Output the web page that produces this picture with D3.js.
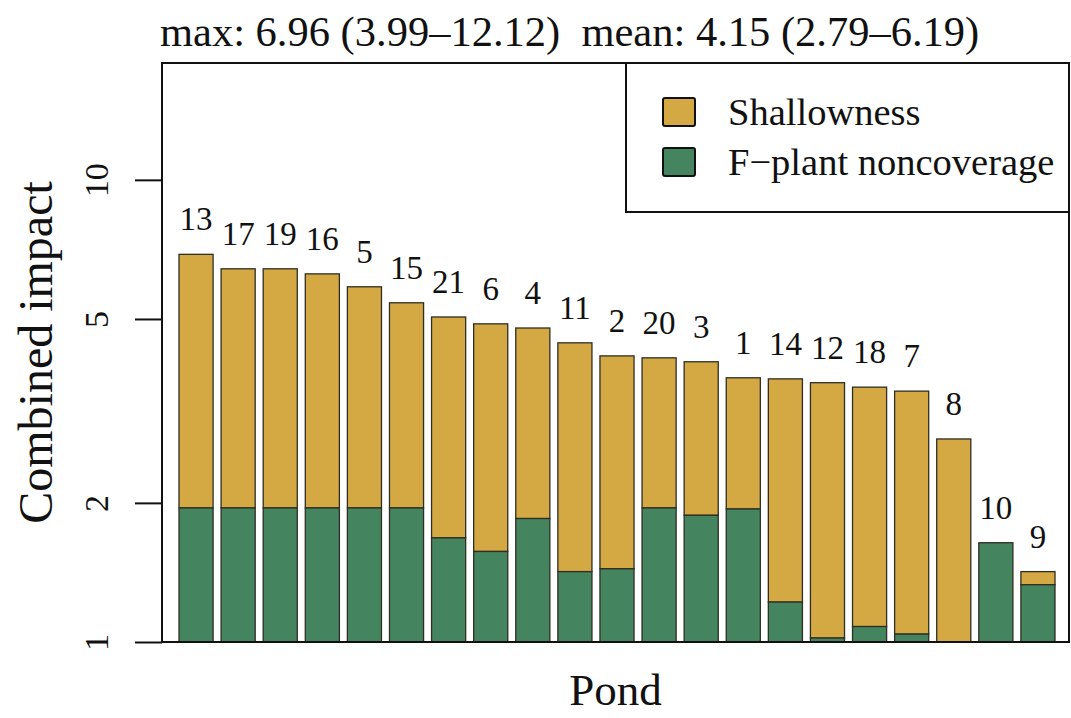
<!DOCTYPE html>
<html>
<head>
<meta charset="utf-8">
<script src="https://cdn.jsdelivr.net/npm/d3@7"></script>
<style>
  body { margin: 0; background: #fff; }
  text { font-family: "Liberation Serif", "DejaVu Serif", serif; fill: #111; white-space: pre; }
</style>
</head>
<body>
<script>
// ponds in plotted order (sorted by combined impact)
var ponds = ["13","17","19","16","5","15","21","6","4","11","2","20","3","1","14","12","18","7","8","10","9"];
// top of each bar (combined impact)
var combined = [6.9, 6.42, 6.42, 6.26, 5.87, 5.42, 5.05, 4.88, 4.78, 4.44, 4.16, 4.12, 4.04, 3.73, 3.71, 3.64, 3.56, 3.49, 2.75, 1.64, 1.42];
// top of the green part (F-plant noncoverage)
var noncoverage = [1.95, 1.95, 1.95, 1.95, 1.95, 1.95, 1.68, 1.57, 1.85, 1.42, 1.44, 1.95, 1.88, 1.94, 1.22, 1.02, 1.08, 1.04, 1.0, 1.64, 1.33];
var yTicks = [1, 2, 5, 10];
var legendLabels = ["Shallowness", "F\u2212plant noncoverage"];
var titleText = "max: 6.96 (3.99\u201312.12)  mean: 4.15 (2.79\u20136.19)";

var w = 1071, h = 718;
var pLeft = 162, pRight = 1069, pTop = 63, pBottom = 642;
var yellow = "#D4A944", green = "#44845E", edge = "#2e2e24";

var svg = d3.select("body").append("svg")
  .attr("width", w)
  .attr("height", h);

var x = d3.scaleBand()
  .domain(ponds)
  .range([179, 1055])
  .paddingInner(0.19)
  .paddingOuter(0);

var y = d3.scaleLog()
  .domain([1, 17.9])
  .range([pBottom, pTop]);

var data = ponds.map(function(p, i) {
  return { pond: p, total: combined[i], green: noncoverage[i] };
});

// yellow part: from green top to combined value
svg.selectAll("rect.shallow")
  .data(data)
  .enter()
  .append("rect")
  .attr("class", "shallow")
  .attr("x", function(d) { return x(d.pond); })
  .attr("width", x.bandwidth())
  .attr("y", function(d) { return y(d.total); })
  .attr("height", function(d) { return y(d.green) - y(d.total); })
  .attr("fill", yellow)
  .attr("stroke", edge)
  .attr("stroke-width", 1.3);

// green part: from 1 to noncoverage value
svg.selectAll("rect.plant")
  .data(data.filter(function(d) { return d.green > 1; }))
  .enter()
  .append("rect")
  .attr("class", "plant")
  .attr("x", function(d) { return x(d.pond); })
  .attr("width", x.bandwidth())
  .attr("y", function(d) { return y(d.green); })
  .attr("height", function(d) { return y(1) - y(d.green); })
  .attr("fill", green)
  .attr("stroke", edge)
  .attr("stroke-width", 1.3);

// pond numbers above bars
svg.selectAll("text.lab")
  .data(data)
  .enter()
  .append("text")
  .attr("class", "lab")
  .attr("x", function(d) { return x(d.pond) + x.bandwidth() / 2; })
  .attr("y", function(d) { return y(d.total) - 24; })
  .attr("text-anchor", "middle")
  .attr("font-size", "33px")
  .text(function(d) { return d.pond; });

// y axis
var yAxis = svg.append("g")
  .attr("transform", "translate(" + pLeft + ",0)")
  .call(d3.axisLeft(y).tickValues(yTicks).tickSize(27).tickFormat(d3.format("d")));
yAxis.select(".domain").remove();
yAxis.selectAll(".tick line").attr("stroke", "#111").attr("stroke-width", 2);
yAxis.selectAll(".tick text")
  .attr("transform", "rotate(-90)")
  .attr("x", 0)
  .attr("y", -54)
  .attr("dy", null)
  .attr("text-anchor", "middle")
  .attr("fill", "#111")
  .style("font-family", "Liberation Serif")
  .style("font-size", "34px");

// plot box
svg.append("rect")
  .attr("x", pLeft).attr("y", pTop)
  .attr("width", pRight - pLeft).attr("height", pBottom - pTop)
  .attr("fill", "none").attr("stroke", "#111").attr("stroke-width", 2);

// legend
var lg = svg.append("g");
lg.append("rect")
  .attr("x", 626).attr("y", pTop)
  .attr("width", pRight - 626).attr("height", 212 - pTop)
  .attr("fill", "#fff").attr("stroke", "#111").attr("stroke-width", 2);
var legendColors = [yellow, green];
legendLabels.forEach(function(l, i) {
  lg.append("rect")
    .attr("x", 663).attr("y", 98 + i * 50)
    .attr("width", 32).attr("height", 28)
    .attr("rx", 2)
    .attr("fill", legendColors[i]).attr("stroke", "#111").attr("stroke-width", 2);
  lg.append("text")
    .attr("x", 728).attr("y", 112 + i * 50)
    .attr("dominant-baseline", "central")
    .attr("font-size", "38.5px")
    .text(l);
});

// title and axis titles
svg.append("text")
  .attr("x", 160).attr("y", 46)
  .attr("font-size", "42.5px")
  .text(titleText);

svg.append("text")
  .attr("transform", "translate(52," + ((pTop + pBottom) / 2) + ") rotate(-90)")
  .attr("text-anchor", "middle")
  .attr("font-size", "48px")
  .text("Combined impact");

svg.append("text")
  .attr("x", (pLeft + pRight) / 2).attr("y", 705)
  .attr("text-anchor", "middle")
  .attr("font-size", "45px")
  .text("Pond");
</script>
</body>
</html>
